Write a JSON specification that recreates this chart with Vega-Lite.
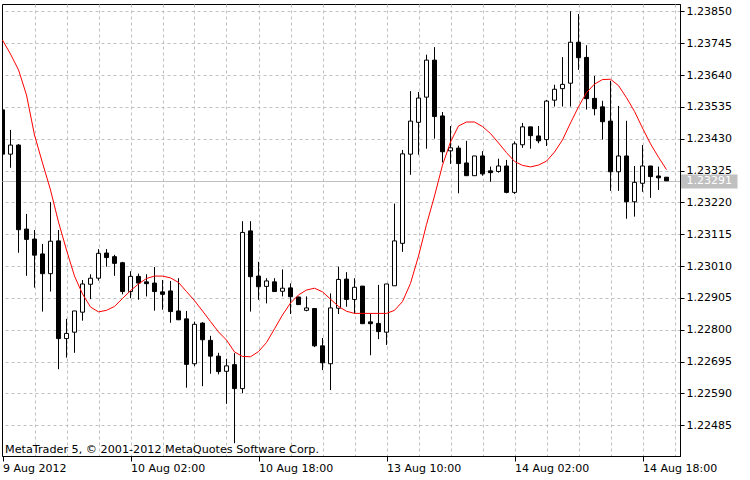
{
  "$schema": "https://vega.github.io/schema/vega-lite/v6.json",
  "width": 678,
  "height": 452,
  "autosize": {"type": "none"},
  "padding": {"left": 2, "top": 4, "right": 70, "bottom": 24},
  "background": "white",
  "title": {"text": "MetaTrader 5, © 2001-2012 MetaQuotes Software Corp.", "orient": "bottom", "anchor": "start", "frame": "group", "offset": -20, "baseline": "alphabetic", "font": "DejaVu Sans", "fontSize": 11.2, "fontWeight": "normal", "color": "black", "dx": 3},
  "config": {"view": {"stroke": "black", "strokeWidth": 1}, "font": "DejaVu Sans"},
  "data": {"values": [
    {"i":0,"o":1.23525,"h":1.23528,"l":1.23373,"c":1.23379,"ma":1.23755},
    {"i":1,"o":1.23379,"h":1.23459,"l":1.23334,"c":1.23409,"ma":1.23709},
    {"i":2,"o":1.23409,"h":1.23412,"l":1.23054,"c":1.23130,"ma":1.23657},
    {"i":3,"o":1.23132,"h":1.23182,"l":1.22978,"c":1.23098,"ma":1.23574},
    {"i":4,"o":1.23099,"h":1.23129,"l":1.22939,"c":1.23046,"ma":1.23442},
    {"i":5,"o":1.23050,"h":1.23083,"l":1.22860,"c":1.22985,"ma":1.23350},
    {"i":6,"o":1.22985,"h":1.23221,"l":1.22926,"c":1.23092,"ma":1.23261},
    {"i":7,"o":1.23093,"h":1.23129,"l":1.22670,"c":1.22771,"ma":1.23155},
    {"i":8,"o":1.22771,"h":1.22836,"l":1.22708,"c":1.22788,"ma":1.23063},
    {"i":9,"o":1.22792,"h":1.22862,"l":1.22724,"c":1.22862,"ma":1.22977},
    {"i":10,"o":1.22858,"h":1.22964,"l":1.22830,"c":1.22951,"ma":1.22918},
    {"i":11,"o":1.22950,"h":1.22983,"l":1.22901,"c":1.22970,"ma":1.22875},
    {"i":12,"o":1.22970,"h":1.23066,"l":1.22962,"c":1.23052,"ma":1.22859},
    {"i":13,"o":1.23053,"h":1.23066,"l":1.23008,"c":1.23038,"ma":1.22864},
    {"i":14,"o":1.23041,"h":1.23047,"l":1.22978,"c":1.23019,"ma":1.22877},
    {"i":15,"o":1.23021,"h":1.23024,"l":1.22917,"c":1.22926,"ma":1.22903},
    {"i":16,"o":1.22926,"h":1.22993,"l":1.22904,"c":1.22976,"ma":1.22929},
    {"i":17,"o":1.22976,"h":1.22985,"l":1.22899,"c":1.22954,"ma":1.22951},
    {"i":18,"o":1.22958,"h":1.22983,"l":1.22910,"c":1.22952,"ma":1.22969},
    {"i":19,"o":1.22954,"h":1.23007,"l":1.22863,"c":1.22926,"ma":1.22977},
    {"i":20,"o":1.22925,"h":1.22964,"l":1.22866,"c":1.22917,"ma":1.22977},
    {"i":21,"o":1.22928,"h":1.22961,"l":1.22823,"c":1.22860,"ma":1.22971},
    {"i":22,"o":1.22862,"h":1.22970,"l":1.22832,"c":1.22833,"ma":1.22956},
    {"i":23,"o":1.22836,"h":1.22862,"l":1.22609,"c":1.22686,"ma":1.22926},
    {"i":24,"o":1.22688,"h":1.22827,"l":1.22680,"c":1.22818,"ma":1.22896},
    {"i":25,"o":1.22822,"h":1.22825,"l":1.22614,"c":1.22767,"ma":1.22862},
    {"i":26,"o":1.22765,"h":1.22780,"l":1.22655,"c":1.22713,"ma":1.22827},
    {"i":27,"o":1.22713,"h":1.22724,"l":1.22653,"c":1.22662,"ma":1.22793},
    {"i":28,"o":1.22663,"h":1.22704,"l":1.22556,"c":1.22681,"ma":1.22766},
    {"i":29,"o":1.22685,"h":1.22723,"l":1.22426,"c":1.22606,"ma":1.22727},
    {"i":30,"o":1.22606,"h":1.23158,"l":1.22591,"c":1.23121,"ma":1.22712},
    {"i":31,"o":1.23126,"h":1.23158,"l":1.22860,"c":1.22975,"ma":1.22711},
    {"i":32,"o":1.22977,"h":1.23024,"l":1.22899,"c":1.22942,"ma":1.22728},
    {"i":33,"o":1.22943,"h":1.22970,"l":1.22887,"c":1.22961,"ma":1.22758},
    {"i":34,"o":1.22958,"h":1.22970,"l":1.22926,"c":1.22926,"ma":1.22803},
    {"i":35,"o":1.22927,"h":1.22999,"l":1.22910,"c":1.22937,"ma":1.22849},
    {"i":36,"o":1.22938,"h":1.22953,"l":1.22852,"c":1.22909,"ma":1.22888},
    {"i":37,"o":1.22908,"h":1.22909,"l":1.22883,"c":1.22883,"ma":1.22915},
    {"i":38,"o":1.22864,"h":1.22910,"l":1.22861,"c":1.22872,"ma":1.22931},
    {"i":39,"o":1.22870,"h":1.22872,"l":1.22743,"c":1.22747,"ma":1.22937},
    {"i":40,"o":1.22747,"h":1.22773,"l":1.22667,"c":1.22691,"ma":1.22925},
    {"i":41,"o":1.22688,"h":1.22920,"l":1.22601,"c":1.22872,"ma":1.22901},
    {"i":42,"o":1.22871,"h":1.23008,"l":1.22852,"c":1.22966,"ma":1.22877},
    {"i":43,"o":1.22967,"h":1.22990,"l":1.22876,"c":1.22900,"ma":1.22861},
    {"i":44,"o":1.22900,"h":1.22970,"l":1.22854,"c":1.22940,"ma":1.22854},
    {"i":45,"o":1.22944,"h":1.22944,"l":1.22820,"c":1.22820,"ma":1.22854},
    {"i":46,"o":1.22826,"h":1.22854,"l":1.22716,"c":1.22820,"ma":1.22854},
    {"i":47,"o":1.22821,"h":1.22948,"l":1.22769,"c":1.22794,"ma":1.22854},
    {"i":48,"o":1.22792,"h":1.22951,"l":1.22750,"c":1.22951,"ma":1.22854},
    {"i":49,"o":1.22945,"h":1.23216,"l":1.22945,"c":1.23093,"ma":1.22864},
    {"i":50,"o":1.23085,"h":1.23393,"l":1.23057,"c":1.23380,"ma":1.22893},
    {"i":51,"o":1.23379,"h":1.23587,"l":1.23311,"c":1.23488,"ma":1.22953},
    {"i":52,"o":1.23484,"h":1.23584,"l":1.23377,"c":1.23564,"ma":1.23043},
    {"i":53,"o":1.23567,"h":1.23707,"l":1.23397,"c":1.23689,"ma":1.23147},
    {"i":54,"o":1.23689,"h":1.23732,"l":1.23430,"c":1.23503,"ma":1.23241},
    {"i":55,"o":1.23505,"h":1.23518,"l":1.23352,"c":1.23387,"ma":1.23343},
    {"i":56,"o":1.23390,"h":1.23472,"l":1.23347,"c":1.23400,"ma":1.23419},
    {"i":57,"o":1.23399,"h":1.23407,"l":1.23250,"c":1.23348,"ma":1.23472},
    {"i":58,"o":1.23350,"h":1.23423,"l":1.23308,"c":1.23308,"ma":1.23485},
    {"i":59,"o":1.23308,"h":1.23373,"l":1.23308,"c":1.23373,"ma":1.23485},
    {"i":60,"o":1.23373,"h":1.23389,"l":1.23308,"c":1.23314,"ma":1.23470},
    {"i":61,"o":1.23324,"h":1.23338,"l":1.23288,"c":1.23318,"ma":1.23447},
    {"i":62,"o":1.23322,"h":1.23364,"l":1.23318,"c":1.23340,"ma":1.23416},
    {"i":63,"o":1.23340,"h":1.23360,"l":1.23250,"c":1.23253,"ma":1.23384},
    {"i":64,"o":1.23253,"h":1.23421,"l":1.23248,"c":1.23413,"ma":1.23355},
    {"i":65,"o":1.23410,"h":1.23482,"l":1.23400,"c":1.23469,"ma":1.23342},
    {"i":66,"o":1.23469,"h":1.23469,"l":1.23397,"c":1.23440,"ma":1.23337},
    {"i":67,"o":1.23439,"h":1.23472,"l":1.23415,"c":1.23423,"ma":1.23343},
    {"i":68,"o":1.23427,"h":1.23558,"l":1.23406,"c":1.23554,"ma":1.23356},
    {"i":69,"o":1.23557,"h":1.23608,"l":1.23536,"c":1.23593,"ma":1.23386},
    {"i":70,"o":1.23595,"h":1.23699,"l":1.23536,"c":1.23609,"ma":1.23426},
    {"i":71,"o":1.23613,"h":1.23850,"l":1.23536,"c":1.23748,"ma":1.23482},
    {"i":72,"o":1.23748,"h":1.23841,"l":1.23657,"c":1.23697,"ma":1.23535},
    {"i":73,"o":1.23698,"h":1.23738,"l":1.23526,"c":1.23562,"ma":1.23582},
    {"i":74,"o":1.23563,"h":1.23637,"l":1.23507,"c":1.23529,"ma":1.23610},
    {"i":75,"o":1.23535,"h":1.23555,"l":1.23427,"c":1.23486,"ma":1.23625},
    {"i":76,"o":1.23488,"h":1.23621,"l":1.23258,"c":1.23321,"ma":1.23626},
    {"i":77,"o":1.23321,"h":1.23538,"l":1.23258,"c":1.23373,"ma":1.23605},
    {"i":78,"o":1.23373,"h":1.23489,"l":1.23166,"c":1.23222,"ma":1.23565},
    {"i":79,"o":1.23222,"h":1.23340,"l":1.23173,"c":1.23286,"ma":1.23520},
    {"i":80,"o":1.23283,"h":1.23409,"l":1.23255,"c":1.23340,"ma":1.23465},
    {"i":81,"o":1.23340,"h":1.23340,"l":1.23235,"c":1.23305,"ma":1.23413},
    {"i":82,"o":1.23307,"h":1.23338,"l":1.23261,"c":1.23301,"ma":1.23369},
    {"i":83,"o":1.23303,"h":1.23303,"l":1.23291,"c":1.23291,"ma":1.23328}
  ]},
  "encoding": {
    "x": {
      "field": "i", "type": "quantitative", "title": null,
      "scale": {"domain": [-0.0625, 84.6875], "nice": false, "zero": false, "padding": 0},
      "axis": {
        "orient": "bottom",
        "values": [0,4,8,12,16,20,24,28,32,36,40,44,48,52,56,60,64,68,72,76,80,84],
        "labelExpr": "datum.value == 0 ? '9 Aug 2012' : datum.value == 16 ? '10 Aug 02:00' : datum.value == 32 ? '10 Aug 18:00' : datum.value == 48 ? '13 Aug 10:00' : datum.value == 64 ? '14 Aug 02:00' : datum.value == 80 ? '14 Aug 18:00' : ''",
        "labelAlign": "left", "labelBaseline": "top", "labelPadding": 1,
        "labelFlush": false, "labelOverlap": false, "labelBound": false,
        "labelFont": "DejaVu Sans", "labelFontSize": 11, "labelColor": "black",
        "tickSize": 5, "tickColor": "black",
        "tickOpacity": {"condition": {"test": "datum.value % 16 == 0", "value": 1}, "value": 0},
        "grid": true, "gridColor": "#c0c0c0", "gridDash": [3, 3],
        "gridOpacity": {"condition": {"test": "datum.value == 0", "value": 0}, "value": 1},
        "domainColor": "black"
      }
    },
    "y": {
      "field": "l", "type": "quantitative", "title": null,
      "scale": {"domain": [1.223838, 1.238741], "nice": false, "zero": false, "padding": 0},
      "axis": {
        "orient": "right",
        "values": [1.22485, 1.2259, 1.22695, 1.228, 1.22905, 1.2301, 1.23115, 1.2322, 1.23325, 1.2343, 1.23535, 1.2364, 1.23745, 1.2385, 1.23291],
        "format": ".5f",
        "labelFont": "DejaVu Sans", "labelFontSize": 11,
        "labelAlign": "left", "labelBaseline": "middle",
        "labelOverlap": false, "labelBound": false, "labelFlush": false,
        "labelColor": {"condition": {"test": "abs(datum.value - 1.23291) < 1e-7", "value": "white"}, "value": "black"},
        "labelPadding": {"condition": {"test": "abs(datum.value - 1.23291) < 1e-7", "value": -51}, "value": 2},
        "tickSize": {"condition": {"test": "abs(datum.value - 1.23291) < 1e-7", "value": 57}, "value": 4},
        "tickWidth": {"condition": {"test": "abs(datum.value - 1.23291) < 1e-7", "value": 14}, "value": 1},
        "tickColor": {"condition": {"test": "abs(datum.value - 1.23291) < 1e-7", "value": "#c0c0c0"}, "value": "black"},
        "grid": true, "gridColor": "#c0c0c0",
        "gridDash": {"condition": {"test": "abs(datum.value - 1.23291) < 1e-7", "value": []}, "value": [3, 3]},
        "domainColor": "black"
      }
    }
  },
  "layer": [
    {
      "mark": {"type": "rule", "color": "black", "strokeWidth": 1, "clip": true},
      "encoding": {"y2": {"field": "h"}}
    },
    {
      "mark": {"type": "bar", "size": 4, "stroke": "black", "strokeWidth": 1, "clip": true},
      "encoding": {
        "y": {"field": "o", "type": "quantitative", "title": null},
        "y2": {"field": "c"},
        "fill": {"condition": {"test": "datum.c < datum.o", "value": "black"}, "value": "white"}
      }
    },
    {
      "mark": {"type": "line", "color": "#ff0000", "strokeWidth": 1, "clip": true},
      "encoding": {"y": {"field": "ma", "type": "quantitative", "title": null}}
    }
  ]
}
